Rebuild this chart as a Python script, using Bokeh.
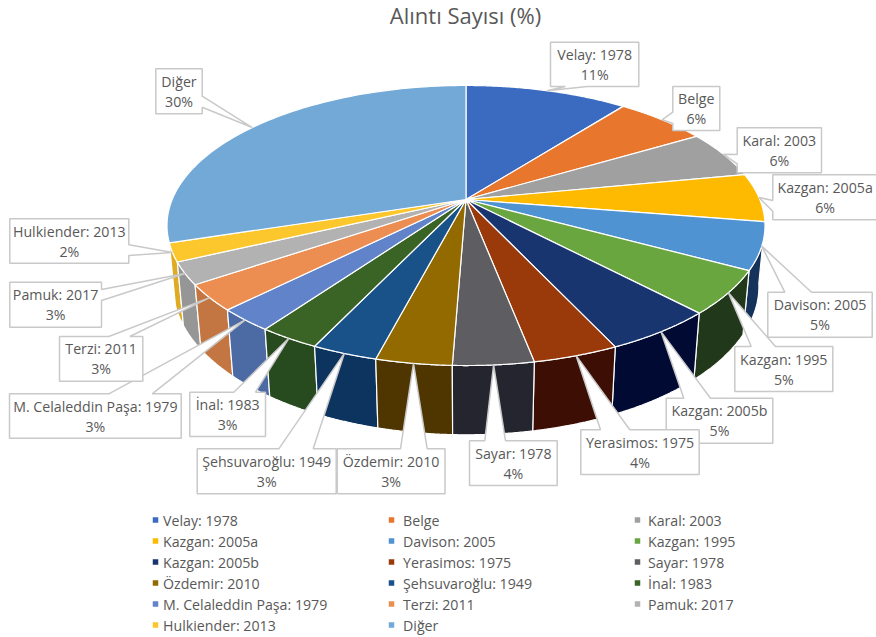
import numpy as np
from bokeh.plotting import figure
from bokeh.models import Range1d
from bokeh.core.properties import value
from bokeh.embed import file_html
from bokeh.resources import INLINE

TITLE = "Alıntı Sayısı (%)"
names = ["Velay: 1978", "Belge", "Karal: 2003", "Kazgan: 2005a", "Davison: 2005", "Kazgan: 1995",
         "Kazgan: 2005b", "Yerasimos: 1975", "Sayar: 1978", "Özdemir: 2010", "Şehsuvaroğlu: 1949",
         "İnal: 1983", "M. Celaleddin Paşa: 1979", "Terzi: 2011", "Pamuk: 2017", "Hulkiender: 2013", "Diğer"]
values = [10.51, 5.95, 5.5, 5.6, 5.4, 5.0, 5.1, 3.9, 3.65, 3.45, 3.0, 2.8, 2.6, 3.0, 2.55, 2.1, 29.9]
top_colors = ["#3b6bc0", "#e8762d", "#a0a0a0", "#fdba00", "#4f93d2", "#69a640", "#193570", "#9a3a0a",
              "#5e5e62", "#936a00", "#185288", "#3a6326", "#6083c9", "#ec8e51", "#b2b2b2", "#fbc72c", "#72a9d7"]
wall_colors = ["#2a4e8c", "#a8551f", "#757575", "#b88600", "#15325a", "#21391a", "#000a33", "#3c0e04",
               "#25252f", "#4f3600", "#0c345f", "#274a1f", "#4c6ba5", "#c47642", "#969696", "#dfab22", "#527ba0"]

# layout of the callouts: left, top, right, bottom, edge holding the pointer, pointer base
boxes = [
    (550, 41.7, 638.3, 86, "b", 565, 587),
    (672.3, 86, 719.3, 130, "l", 111.7, 123),
    (736.7, 127.3, 821, 172.3, "l", 154, 163.3),
    (772.3, 174.3, 877, 219.3, "l", 200, 210.7),
    (767.3, 291.7, 871.7, 336.7, "t", 784.3, 811),
    (734.3, 346, 832.3, 391, "t", 750.7, 775),
    (665.7, 397.7, 772.3, 442.7, "t", 683.3, 710),
    (580.3, 429.3, 698.7, 474, "t", 600, 629.3),
    (469, 440.3, 556.7, 485, "t", 484.3, 505),
    (336.7, 448.3, 444.5, 493.3, "t", 400, 426.7),
    (196.7, 448.3, 335.7, 493.3, "t", 278.3, 312.7),
    (189.3, 391.7, 265, 436, "t", 233.3, 255),
    (9, 393.3, 180.7, 437.7, "t", 108.3, 151.7),
    (59, 336, 142.3, 380.7, "t", 108.3, 129.3),
    (9.3, 281.7, 101, 326.7, "r", 289, 300),
    (9.3, 218.3, 128.3, 262.7, "r", 244.3, 255),
    (155.3, 68.3, 201.7, 113.3, "r", 95.7, 106.7),
]

# perspective of the pie
CX, CY = 465.5, 199.0
A, B, K = 293.8, 135.2, 0.1857
DEPTH_C, DEPTH_M = 61.1, 0.02


def project(theta, z=0.0):
    u, v = np.sin(theta), np.cos(theta)
    w = 1 + K * v + DEPTH_M * z
    return CX + A * u / w, CY + (DEPTH_C * z - B * v) / w


vals = np.array(values, dtype=float)
edges = np.concatenate([[0.0], np.cumsum(vals)]) / vals.sum() * 2 * np.pi

p = figure(width=876, height=637, x_range=Range1d(0, 876), y_range=Range1d(637, 0),
           output_backend="svg", toolbar_location=None, min_border=0, outline_line_color=None,
           background_fill_color="white", border_fill_color="white")
p.axis.visible = False
p.grid.visible = False

# side walls, far to near
order = np.argsort(np.cos((edges[:-1] + edges[1:]) / 2))[::-1]
wx, wy, wc = [], [], []
for i in order:
    t = np.linspace(edges[i], edges[i + 1], 60)
    x0, y0 = project(t, 0)
    x1, y1 = project(t, 1)
    wx.append(np.concatenate([x0, x1[::-1]]))
    wy.append(np.concatenate([y0, y1[::-1]]))
    wc.append(wall_colors[i])
p.patches(wx, wy, fill_color=wc, line_color="white", line_width=1.2)

# top face
tx, ty = [], []
for i in range(len(vals)):
    t = np.linspace(edges[i], edges[i + 1], 80)
    x0, y0 = project(t, 0)
    tx.append(np.concatenate([[CX], x0]))
    ty.append(np.concatenate([[CY], y0]))
p.patches(tx, ty, fill_color=top_colors, line_color="white", line_width=1.2)

# callouts
cx, cy, lx, ly, ltext = [], [], [], [], []
for i, (l, t, r, b, side, a0, a1) in enumerate(boxes):
    mx, my = project((edges[i] + edges[i + 1]) / 2, 0)
    if side == "b":
        pts = [(l, t), (r, t), (r, b), (a1, b), (mx, my), (a0, b), (l, b)]
    elif side == "t":
        pts = [(l, t), (a0, t), (mx, my), (a1, t), (r, t), (r, b), (l, b)]
    elif side == "l":
        pts = [(l, t), (r, t), (r, b), (l, b), (l, a1), (mx, my), (l, a0)]
    else:
        pts = [(l, t), (r, t), (r, a0), (mx, my), (r, a1), (r, b), (l, b)]
    cx.append([q[0] for q in pts])
    cy.append([q[1] for q in pts])
    xc = (l + r) / 2
    yc = (t + b) / 2
    lx += [xc, xc]
    ly += [yc - 10, yc + 10]
    ltext += [names[i], f"{round(values[i])}%"]
p.patches(cx, cy, fill_color="white", line_color="#c9c9c9", line_width=1.5)
p.text(lx, ly, text=ltext, text_font=value("Open Sans"), text_font_size="14.2px", text_color="#595959",
       text_align="center", text_baseline="middle")

# title
p.text([465], [14.5], text=[TITLE], text_font=value("Open Sans"), text_font_size="22px", text_color="#595959",
       text_align="center", text_baseline="middle")

# legend
col_marker = [155, 391, 637]
col_text = [162.5, 402.5, 647.5]
rows = [519.5, 540.5, 561.5, 582.5, 603.5, 624.5]
mx, my, mtx, mty = [], [], [], []
for i in range(len(names)):
    r, c = divmod(i, 3)
    mx.append(col_marker[c]); my.append(rows[r])
    mtx.append(col_text[c]); mty.append(rows[r])
p.scatter(mx, my, marker="square", size=5.5, fill_color=top_colors, line_color=None)
p.text(mtx, mty, text=names, text_font=value("Open Sans"), text_font_size="14.2px", text_color="#595959",
       text_align="left", text_baseline="middle")

open("out.html", "w").write(file_html(p, INLINE))
